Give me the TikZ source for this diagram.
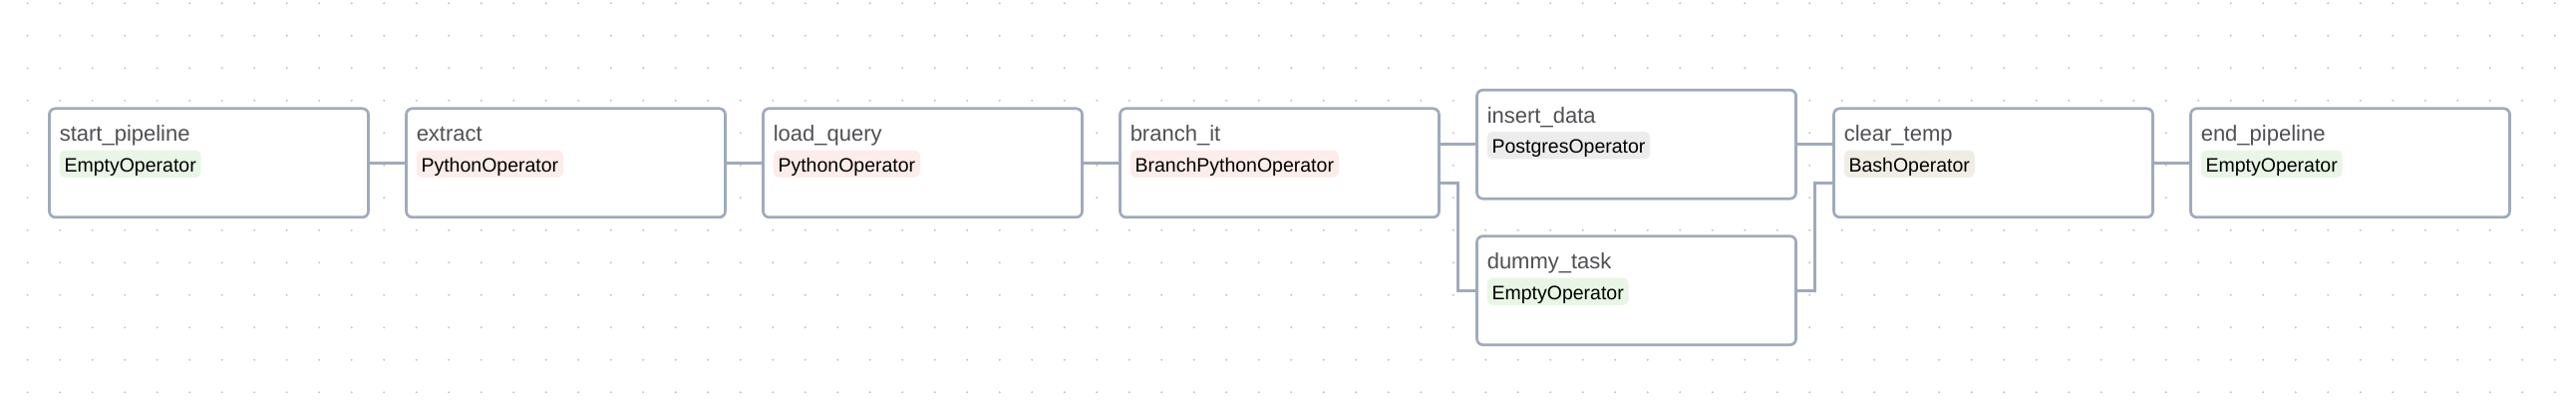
\documentclass[tikz,border=0pt]{standalone}
\usepackage{fontspec}
\setmainfont{Liberation Sans}
\definecolor{edge}{RGB}{160,170,189}
\definecolor{titleink}{RGB}{80,80,84}
\definecolor{dotgray}{RGB}{196,196,198}
\definecolor{emptyop}{RGB}{233,246,229}
\definecolor{pyop}{RGB}{253,237,234}
\definecolor{pgop}{RGB}{236,236,236}
\definecolor{bashop}{RGB}{240,237,229}
\usetikzlibrary{calc}
\tikzset{
  task/.style={draw=edge, line width=1.35pt, rounded corners=3pt, fill=white,
               minimum width=160pt, minimum height=54.5pt, inner sep=0pt},
  tasktitle/.style={anchor=base west, inner sep=0pt, text=titleink,
               font=\fontsize{11}{13}\selectfont},
  badge/.style={anchor=north west, rounded corners=3pt, inner xsep=2.4pt, inner ysep=0pt,
               text height=10.8pt, text depth=2.85pt, text=black,
               font=\fontsize{9.75}{12}\selectfont},
  link/.style={draw=edge, line width=1.4pt},
}
\begin{document}
\begin{tikzpicture}[x=0.5pt,y=-0.5pt]
    \useasboundingbox (0,0) rectangle (2584,402);
    % --- dotted canvas ---
    \foreach \i in {0,...,78}
      \foreach \j in {0,...,12}
        \fill[dotgray] (27.7+32.5*\i,3.3+32.5*\j) circle (0.55pt);
    % --- tasks ---
    \node[task] (start) at (209.5,163.3) {};
    \node[task] (extract) at (567.5,163.3) {};
    \node[task] (load) at (925.5,163.3) {};
    \node[task] (branch) at (1283.5,163.3) {};
    \node[task] (insert) at (1641.5,144.7) {};
    \node[task] (dummy) at (1641.5,291.2) {};
    \node[task] (clear) at (1999.5,163.3) {};
    \node[task] (finish) at (2357.5,163.3) {};
    % --- titles and operator badges ---
    \node[tasktitle] (startT) at ([xshift=5.6pt,yshift=-17.2pt]start.north west) {start\_pipeline};
    \node[badge,fill=emptyop] (startB) at ([xshift=5.6pt,yshift=-21.4pt]start.north west) {EmptyOperator};
    \node[tasktitle] (extractT) at ([xshift=5.6pt,yshift=-17.2pt]extract.north west) {extract};
    \node[badge,fill=pyop] (extractB) at ([xshift=5.6pt,yshift=-21.4pt]extract.north west) {PythonOperator};
    \node[tasktitle] (loadT) at ([xshift=5.6pt,yshift=-17.2pt]load.north west) {load\_query};
    \node[badge,fill=pyop] (loadB) at ([xshift=5.6pt,yshift=-21.4pt]load.north west) {PythonOperator};
    \node[tasktitle] (branchT) at ([xshift=5.6pt,yshift=-17.2pt]branch.north west) {branch\_it};
    \node[badge,fill=pyop] (branchB) at ([xshift=5.6pt,yshift=-21.4pt]branch.north west) {BranchPythonOperator};
    \node[tasktitle] (insertT) at ([xshift=5.6pt,yshift=-17.2pt]insert.north west) {insert\_data};
    \node[badge,fill=pgop] (insertB) at ([xshift=5.6pt,yshift=-21.4pt]insert.north west) {PostgresOperator};
    \node[tasktitle] (dummyT) at ([xshift=5.6pt,yshift=-17.2pt]dummy.north west) {dummy\_task};
    \node[badge,fill=emptyop] (dummyB) at ([xshift=5.6pt,yshift=-21.4pt]dummy.north west) {EmptyOperator};
    \node[tasktitle] (clearT) at ([xshift=5.6pt,yshift=-17.2pt]clear.north west) {clear\_temp};
    \node[badge,fill=bashop] (clearB) at ([xshift=5.6pt,yshift=-21.4pt]clear.north west) {BashOperator};
    \node[tasktitle] (finishT) at ([xshift=5.6pt,yshift=-17.2pt]finish.north west) {end\_pipeline};
    \node[badge,fill=emptyop] (finishB) at ([xshift=5.6pt,yshift=-21.4pt]finish.north west) {EmptyOperator};
    % --- dependencies ---
    \draw[link] (start.east) -- (extract.west);
    \draw[link] (extract.east) -- (load.west);
    \draw[link] (load.east) -- (branch.west);
    \draw[link] (insert.west -| branch.east) -- (insert.west);
    \draw[link] ([yshift=-10pt]branch.east) -- ++(9pt,0) |- (dummy.west);
    \draw[link] (insert.east) -- (insert.east -| clear.west);
    \draw[link] (dummy.east) -- ++(9pt,0) |- ([yshift=-10pt]clear.west);
    \draw[link] (clear.east) -- (finish.west);
\end{tikzpicture}
\end{document}
